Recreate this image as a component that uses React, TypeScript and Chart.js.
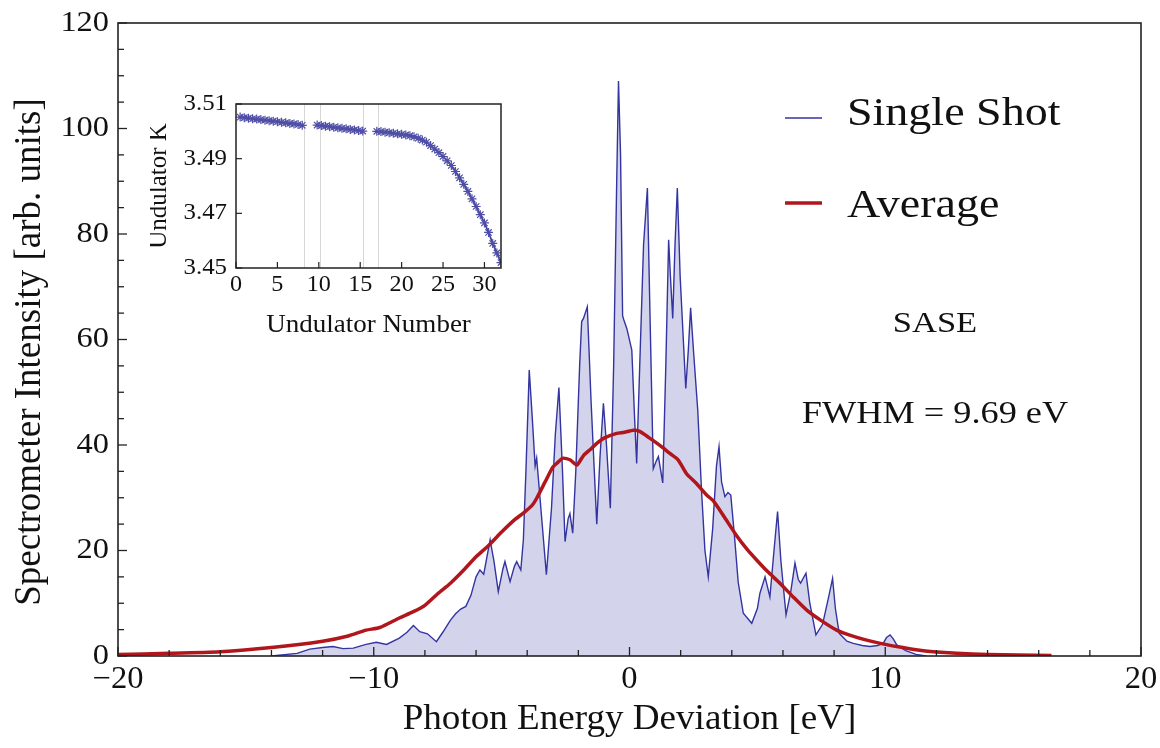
import React, { useEffect, useRef } from "react";
import { Chart, registerables } from "chart.js";

Chart.register(...registerables);

// ---------- Main chart data ----------
const ssEnergy = [
  -14.0, -13.0, -12.5, -12.0, -11.6, -11.2, -10.8, -10.3, -9.9, -9.5, -9.0, -8.7, -8.45, -8.2, -7.9, -7.55,
  -7.3, -7.0, -6.8, -6.6, -6.4, -6.2, -6.0, -5.85, -5.7, -5.45, -5.3, -5.13, -4.95, -4.87, -4.67, -4.5,
  -4.41, -4.25, -4.15, -4.05, -3.92, -3.8, -3.69, -3.63, -3.5, -3.25, -3.05, -2.9, -2.76, -2.62, -2.52,
  -2.4, -2.33, -2.22, -2.1, -1.95, -1.87, -1.8, -1.65, -1.5, -1.28, -1.15, -1.02, -0.9, -0.75, -0.62,
  -0.5, -0.43, -0.35, -0.27, -0.22, -0.1, 0.09, 0.2, 0.28, 0.4, 0.55, 0.7, 0.8, 0.93, 1.05, 1.13, 1.3,
  1.42, 1.53, 1.6, 1.69, 1.78, 1.87, 1.98, 2.2, 2.3, 2.39, 2.5, 2.67, 2.82, 2.95, 3.08, 3.25, 3.4, 3.5,
  3.6, 3.73, 3.85, 3.96, 4.1, 4.25, 4.45, 4.78, 5.0, 5.1, 5.3, 5.49, 5.65, 5.79, 5.92, 6.12, 6.3, 6.47,
  6.6, 6.69, 6.9, 7.05, 7.29, 7.55, 7.8, 7.94, 8.05, 8.2, 8.5, 8.75, 9.1, 9.4, 9.7, 9.92, 10.05, 10.19,
  10.32, 10.45, 10.8, 11.2, 11.6,
];
const ssIntensity = [
  0, 0.5, 1.3, 1.6, 1.8, 1.4, 1.5, 2.2, 2.6, 2.2, 3.4, 4.5, 5.8, 4.6, 4.2, 2.7,
  4.5, 6.8, 8.0, 8.9, 9.4, 11.5, 15.0, 16.3, 15.5, 22.0, 18.0, 12.2, 16.5, 17.9, 14.1, 17.0,
  17.9, 16.3, 22.0, 35.0, 54.2, 45.0, 36.0, 37.5, 30.0, 15.4, 28.0, 42.0, 50.9, 35.0, 21.7,
  26.0, 27.0, 23.3, 35.0, 55.0, 63.4, 64.0, 66.2, 48.0, 25.0, 38.0, 47.9, 40.0, 28.0, 55.0,
  90.0, 109.0, 95.0, 64.5, 63.7, 62.0, 58.0, 45.0, 36.5, 55.0, 78.0, 88.7, 65.0, 35.5, 37.0, 37.8, 32.8,
  55.0, 78.9, 72.0, 64.0, 78.0, 88.7, 72.0, 50.7, 58.0, 66.0, 58.0, 46.5, 31.0, 20.0, 15.0, 24.0, 36.0, 39.7,
  33.0, 30.2, 31.0, 30.5, 23.0, 14.0, 8.1, 6.2, 9.0, 11.9, 15.0, 11.2, 20.0, 27.4, 18.0, 7.8, 12.0, 17.6,
  14.5, 13.8, 15.7, 10.0, 4.0, 6.0, 11.5, 14.7, 9.0, 4.3, 2.8, 2.4, 2.0, 1.8, 2.0, 2.4, 3.5, 4.0,
  3.2, 2.1, 1.0, 0.3, 0,
];
const avgEnergy = [
  -20, -18, -16, -14, -12, -11, -10.3, -9.76, -9, -8.45, -8, -7.5, -7.0, -6.5, -6.0, -5.5, -5.0, -4.5,
  -4.15, -3.8, -3.63, -3.3, -3.0, -2.85, -2.6, -2.33, -2.06, -1.8, -1.5, -1.28, -1.0, -0.5, -0.2, 0.15,
  0.4, 0.7, 1.0, 1.3, 1.58, 1.9, 2.24, 2.6, 3.02, 3.28, 3.7, 4.19, 4.6, 4.97, 5.4, 5.88, 6.4, 6.93, 7.5,
  8.1, 8.7, 9.27, 9.9, 10.45, 11.2, 11.88, 12.8, 14, 15.2, 16.5,
];
const avgIntensity = [
  0.3, 0.5, 0.8, 1.6, 2.8, 3.8, 4.9, 5.4, 7.2, 8.4, 9.6, 11.8, 13.8, 16.2, 18.8, 21.0, 23.5, 25.8,
  27.1, 28.6, 29.9, 33.0, 35.8, 36.5, 37.5, 37.2, 36.2, 38.0, 39.3, 40.3, 41.3, 42.2, 42.4, 42.8,
  42.6, 41.6, 40.6, 39.5, 38.4, 37.2, 34.5, 32.8, 30.5, 29.4, 26.4, 22.8, 20.2, 18.2, 16.0, 13.8, 11.2, 8.7, 6.7,
  4.9, 3.8, 3.0, 2.3, 1.8, 1.2, 0.8, 0.5, 0.3, 0.2, 0.1,
];
const xTickLabels = [-20, -10, 0, 10, 20];
const yTickLabels = [0, 20, 40, 60, 80, 100, 120];

// ---------- Inset data ----------
const undulatorNumber = [
  0.5, 1, 1.5, 2, 2.5, 3, 3.5, 4, 4.5, 5, 5.5, 6, 6.5, 7, 7.5, 8,
  9,
  9.8, 10.3, 10.8, 11.3, 11.8, 12.3, 12.8, 13.3, 13.8, 14.3, 14.8, 15.3,
  16,
  17.0, 17.5, 18, 18.5, 19, 19.5, 20, 20.5, 21, 21.5, 22, 22.5, 23, 23.5, 24, 24.5, 25, 25.5, 26, 26.5,
  27, 27.5, 28, 28.5, 29, 29.5, 30, 30.5, 31, 31.5, 32,
];
const undulatorK = [
  3.5052, 3.5050, 3.5048, 3.5046, 3.5045, 3.5043, 3.5041, 3.5039, 3.5037, 3.5035, 3.5033, 3.5031, 3.5029, 3.5027, 3.5025, 3.5022,
  null,
  3.5023, 3.5021, 3.5019, 3.5017, 3.5015, 3.5013, 3.5011, 3.5009, 3.5007, 3.5005, 3.5003, 3.5001,
  null,
  3.5000, 3.4999, 3.4997, 3.4995, 3.4993, 3.4991, 3.4989, 3.4987, 3.4984, 3.4980, 3.4975, 3.4968, 3.4960, 3.4948, 3.4935, 3.4922, 3.4908, 3.4892, 3.4875, 3.4853,
  3.4830, 3.4806, 3.4780, 3.4753, 3.4725, 3.4695, 3.4665, 3.4630, 3.4590, 3.4555, 3.4520,
];
const insetXTickLabels = [0, 5, 10, 15, 20, 25, 30];
const insetYTickLabels = ["3.45", "3.47", "3.49", "3.51"];
const undulatorGaps = [8.2, 10.2, 15.3, 17.1];

const SERIF = '"Liberation Serif", "Times New Roman", serif';

function drawText(
  ctx: CanvasRenderingContext2D,
  text: string,
  x: number,
  y: number,
  size: number,
  align: CanvasTextAlign,
  baseline: CanvasTextBaseline,
  stretch = 1,
  rotate = 0
) {
  ctx.save();
  ctx.translate(x, y);
  if (rotate) ctx.rotate(rotate);
  ctx.scale(stretch, 1);
  ctx.font = `${size}px ${SERIF}`;
  ctx.fillStyle = "#111";
  ctx.textAlign = align;
  ctx.textBaseline = baseline;
  ctx.fillText(text, 0, 0);
  ctx.restore();
}

const fmt = (v: number) => (v < 0 ? "\u2212" + Math.abs(v) : String(v));

const mainDecor = {
  id: "mainDecor",
  afterDraw(chart: any) {
    const { ctx, chartArea: a, scales } = chart;
    const xs = scales.x;
    const ys = scales.y;
    ctx.save();
    // frame
    ctx.strokeStyle = "#222";
    ctx.lineWidth = 1.6;
    ctx.strokeRect(a.left, a.top, a.right - a.left, a.bottom - a.top);
    // ticks
    ctx.lineWidth = 1.3;
    for (let v = -20; v <= 20; v += 2) {
      const px = xs.getPixelForValue(v);
      const len = v % 10 === 0 ? 9 : 6;
      ctx.beginPath();
      ctx.moveTo(px, a.bottom);
      ctx.lineTo(px, a.bottom - len);
      ctx.stroke();
    }
    for (let v = 0; v <= 120; v += 5) {
      const py = ys.getPixelForValue(v);
      const len = v % 20 === 0 ? 9 : 6;
      ctx.beginPath();
      ctx.moveTo(a.left, py);
      ctx.lineTo(a.left + len, py);
      ctx.stroke();
    }
    // tick labels
    xTickLabels.forEach((v) => {
      drawText(ctx, fmt(v), xs.getPixelForValue(v), a.bottom + 8, 31, "center", "top", 1.05);
    });
    yTickLabels.forEach((v) => {
      drawText(ctx, String(v), a.left - 9, ys.getPixelForValue(v), 30, "right", "middle", 1.08);
    });
    // axis titles
    drawText(ctx, "Photon Energy Deviation [eV]", (a.left + a.right) / 2, 729, 35, "center", "alphabetic", 1.06);
    drawText(ctx, "Spectrometer Intensity [arb. units]", 40, 352, 37, "center", "alphabetic", 1.0, -Math.PI / 2);
    // legend
    const ds = chart.data.datasets;
    const legendRows = [
      { d: ds[0], y: 118, text: 125 },
      { d: ds[1], y: 203, text: 217 },
    ];
    legendRows.forEach((r) => {
      ctx.strokeStyle = r.d.borderColor;
      ctx.lineWidth = r.d.borderWidth;
      ctx.beginPath();
      ctx.moveTo(785, r.y);
      ctx.lineTo(822, r.y);
      ctx.stroke();
      drawText(ctx, r.d.label, 847, r.text, 40, "left", "alphabetic", 1.15);
    });
    // annotations
    drawText(ctx, "SASE", 935, 332, 30, "center", "alphabetic", 1.15);
    drawText(ctx, "FWHM = 9.69 eV", 935, 423, 31, "center", "alphabetic", 1.17);
    ctx.restore();
  },
};

const insetDecor = {
  id: "insetDecor",
  beforeDatasetsDraw(chart: any) {
    const { ctx, chartArea: a, scales } = chart;
    ctx.save();
    ctx.fillStyle = "#fff";
    ctx.fillRect(a.left, a.top, a.right - a.left, a.bottom - a.top);
    ctx.strokeStyle = "#d6d6d6";
    ctx.lineWidth = 1;
    undulatorGaps.forEach((g) => {
      const px = Math.round(scales.x.getPixelForValue(g)) + 0.5;
      ctx.beginPath();
      ctx.moveTo(px, a.top);
      ctx.lineTo(px, a.bottom);
      ctx.stroke();
    });
    ctx.restore();
  },
  afterDraw(chart: any) {
    const { ctx, chartArea: a, scales } = chart;
    const xs = scales.x;
    const ys = scales.y;
    ctx.save();
    ctx.strokeStyle = "#222";
    ctx.lineWidth = 1.5;
    ctx.strokeRect(a.left, a.top, a.right - a.left, a.bottom - a.top);
    ctx.lineWidth = 1.2;
    insetXTickLabels.forEach((v) => {
      const px = xs.getPixelForValue(v);
      ctx.beginPath();
      ctx.moveTo(px, a.bottom);
      ctx.lineTo(px, a.bottom - 6);
      ctx.stroke();
      drawText(ctx, String(v), px, a.bottom + 5, 23, "center", "top", 1.05);
    });
    insetYTickLabels.forEach((s) => {
      const py = ys.getPixelForValue(parseFloat(s));
      ctx.beginPath();
      ctx.moveTo(a.left, py);
      ctx.lineTo(a.left + 6, py);
      ctx.stroke();
      drawText(ctx, s, a.left - 9, py, 23, "right", "middle", 1.08);
    });
    drawText(ctx, "Undulator Number", (a.left + a.right) / 2, a.bottom + 64, 25, "center", "alphabetic", 1.08);
    drawText(ctx, "Undulator K", 16, (a.top + a.bottom) / 2, 25, "center", "alphabetic", 1.0, -Math.PI / 2);
    ctx.restore();
  },
};

export default function App() {
  const mainRef = useRef<HTMLCanvasElement>(null);
  const insetRef = useRef<HTMLCanvasElement>(null);

  useEffect(() => {
    const main = new Chart(mainRef.current!, {
      type: "line",
      data: {
        datasets: [
          {
            label: "Single Shot",
            data: ssEnergy.map((x, i) => ({ x, y: ssIntensity[i] })),
            borderColor: "#3434a0",
            borderWidth: 1.4,
            backgroundColor: "rgba(206,206,234,0.9)",
            fill: "origin",
            pointRadius: 0,
            tension: 0,
            order: 2,
          },
          {
            label: "Average",
            data: avgEnergy.map((x, i) => ({ x, y: avgIntensity[i] })),
            borderColor: "#b0161c",
            borderWidth: 3.5,
            fill: false,
            pointRadius: 0,
            tension: 0.2,
            order: 1,
          },
        ],
      },
      options: {
        animation: false,
        responsive: false,
        maintainAspectRatio: false,
        layout: { padding: { left: 118, right: 19, top: 23, bottom: 92 } },
        plugins: { legend: { display: false }, tooltip: { enabled: false } },
        scales: {
          x: { type: "linear", min: -20, max: 20, display: false },
          y: { type: "linear", min: 0, max: 120, display: false },
        },
      },
      plugins: [mainDecor],
    });

    const inset = new Chart(insetRef.current!, {
      type: "line",
      data: {
        datasets: [
          {
            label: "Undulator K",
            data: undulatorNumber.map((x, i) => ({ x, y: undulatorK[i] })),
            borderColor: "#45459e",
            borderWidth: 1.8,
            pointStyle: "star",
            pointRadius: 4.5,
            pointBorderWidth: 1.2,
            pointBorderColor: "#4e4ea6",
            spanGaps: false,
            tension: 0,
            fill: false,
          },
        ],
      },
      options: {
        animation: false,
        responsive: false,
        maintainAspectRatio: false,
        layout: { padding: { left: 86, right: 29, top: 24, bottom: 92 } },
        plugins: { legend: { display: false }, tooltip: { enabled: false } },
        scales: {
          x: { type: "linear", min: 0, max: 32, display: false },
          y: { type: "linear", min: 3.45, max: 3.51, display: false },
        },
      },
      plugins: [insetDecor],
    });

    return () => {
      main.destroy();
      inset.destroy();
    };
  }, []);

  return (
    <div style={{ position: "fixed", left: 0, top: 0, width: 1160, height: 748, background: "#fff" }}>
      <canvas ref={mainRef} width={1160} height={748} style={{ position: "absolute", left: 0, top: 0, width: 1160, height: 748 }} />
      <canvas ref={insetRef} width={380} height={280} style={{ position: "absolute", left: 150, top: 80, width: 380, height: 280 }} />
    </div>
  );
}
